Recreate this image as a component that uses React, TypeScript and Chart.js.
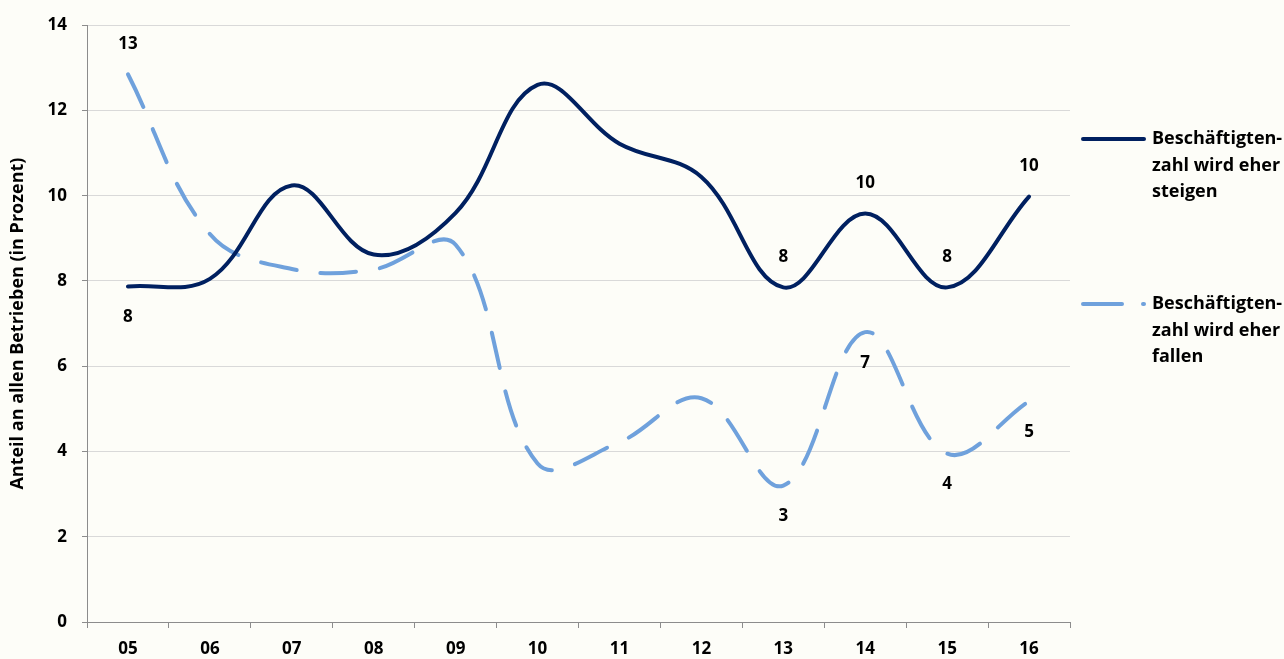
import React, { useEffect, useRef } from "react";
import { Chart, registerables } from "chart.js";

Chart.register(...registerables);

const categories = ["05", "06", "07", "08", "09", "10", "11", "12", "13", "14", "15", "16"];
const steigen = [7.87, 8.05, 10.24, 8.62, 9.6, 12.6, 11.22, 10.44, 7.85, 9.58, 7.85, 9.98];
const fallen = [12.85, 9.1, 8.28, 8.27, 8.85, 3.72, 4.22, 5.25, 3.2, 6.8, 3.95, 5.18];
const steigenLabelPos = ["below", "", "", "", "", "", "", "", "above", "above", "above", "above"];
const fallenLabelPos = ["above", "", "", "", "", "", "", "", "below", "below", "below", "below"];
const legendSteigen = ["Beschäftigten-", "zahl wird eher", "steigen"];
const legendFallen = ["Beschäftigten-", "zahl wird eher", "fallen"];
const yTitle = "Anteil an allen Betrieben (in Prozent)";

const DARK = "#002060";
const LIGHT = "#6fa1dc";
const BG = "#fdfdf8";
const FONT = "'Open Sans', 'Liberation Sans', sans-serif";

const labelPlugin = {
  id: "pointLabels",
  afterDatasetsDraw(chart: any) {
    const ctx = chart.ctx;
    ctx.save();
    ctx.font = `bold 17px ${FONT}`;
    ctx.fillStyle = "#000";
    ctx.textAlign = "center";
    ctx.textBaseline = "middle";
    const positions = [steigenLabelPos, fallenLabelPos];
    chart.data.datasets.forEach((ds: any, di: number) => {
      const meta = chart.getDatasetMeta(di);
      meta.data.forEach((pt: any, i: number) => {
        const pos = positions[di][i];
        if (!pos) return;
        const dy = pos === "above" ? -30 : 31;
        ctx.fillText(String(Math.round(ds.data[i])), pt.x, pt.y + dy);
      });
    });
    ctx.restore();
  },
};

const legendPlugin = {
  id: "customLegend",
  afterDraw(chart: any) {
    const ctx = chart.ctx;
    ctx.save();
    ctx.lineCap = "round";
    ctx.lineWidth = 4;
    ctx.strokeStyle = DARK;
    ctx.beginPath();
    ctx.moveTo(1083, 139);
    ctx.lineTo(1144, 139);
    ctx.stroke();
    ctx.strokeStyle = LIGHT;
    ctx.beginPath();
    ctx.moveTo(1083, 304);
    ctx.lineTo(1122, 304);
    ctx.stroke();
    ctx.beginPath();
    ctx.moveTo(1143, 304);
    ctx.lineTo(1144, 304);
    ctx.stroke();
    ctx.font = `bold 18px ${FONT}`;
    ctx.fillStyle = "#000";
    ctx.textAlign = "left";
    ctx.textBaseline = "middle";
    legendSteigen.forEach((t, i) => ctx.fillText(t, 1152, 139 + i * 26.5));
    legendFallen.forEach((t, i) => ctx.fillText(t, 1152, 304 + i * 26.5));
    ctx.restore();
  },
};

const bgPlugin = {
  id: "bg",
  beforeDraw(chart: any) {
    const ctx = chart.ctx;
    ctx.save();
    ctx.fillStyle = BG;
    ctx.fillRect(0, 0, chart.width, chart.height);
    ctx.restore();
  },
};

export default function App() {
  const ref = useRef<HTMLCanvasElement>(null);
  useEffect(() => {
    if (!ref.current) return;
    const chart = new Chart(ref.current, {
      type: "line",
      data: {
        labels: categories,
        datasets: [
          {
            label: "Beschäftigtenzahl wird eher steigen",
            data: steigen,
            borderColor: DARK,
            borderWidth: 4,
            pointRadius: 0,
            tension: 0.38,
            borderCapStyle: "round",
            borderJoinStyle: "round",
          },
          {
            label: "Beschäftigtenzahl wird eher fallen",
            data: fallen,
            borderColor: LIGHT,
            borderWidth: 4,
            pointRadius: 0,
            tension: 0.38,
            borderDash: [36, 24],
            borderCapStyle: "round",
            borderJoinStyle: "round",
          },
        ],
      },
      options: {
        animation: false,
        responsive: false,
        maintainAspectRatio: false,
        layout: { padding: { top: 23, right: 214, left: 0, bottom: 0 } },
        plugins: { legend: { display: false }, tooltip: { enabled: false } },
        scales: {
          x: {
            offset: true,
            grid: {
              offset: true,
              drawOnChartArea: false,
              drawTicks: true,
              tickLength: 6,
              color: "#8c8c8c",
            },
            border: { color: "#8c8c8c", width: 1 },
            ticks: {
              color: "#000",
              font: { family: FONT, size: 17, weight: "bold" },
              padding: 11,
              maxRotation: 0,
            },
            afterFit(scale: any) {
              scale.height = 37;
            },
          },
          y: {
            min: 0,
            max: 14,
            ticks: {
              stepSize: 2,
              color: "#000",
              font: { family: FONT, size: 17, weight: "bold" },
              padding: 15,
            },
            grid: {
              color: "#d9d9d9",
              lineWidth: 1,
              drawTicks: true,
              tickLength: 5,
              tickColor: "#8c8c8c",
            },
            border: { color: "#8c8c8c", width: 1 },
            title: {
              display: true,
              text: yTitle,
              color: "#000",
              font: { family: FONT, size: 18, weight: "bold" },
              padding: { top: 7, bottom: 0 },
            },
            afterFit(scale: any) {
              scale.width = 87;
            },
          },
        },
      },
      plugins: [bgPlugin, labelPlugin, legendPlugin],
    });
    return () => chart.destroy();
  }, []);
  return (
    <div style={{ position: "fixed", left: 0, top: 0, width: 1284, height: 659, background: BG }}>
      <canvas ref={ref} width={1284} height={659} style={{ display: "block" }} />
    </div>
  );
}
